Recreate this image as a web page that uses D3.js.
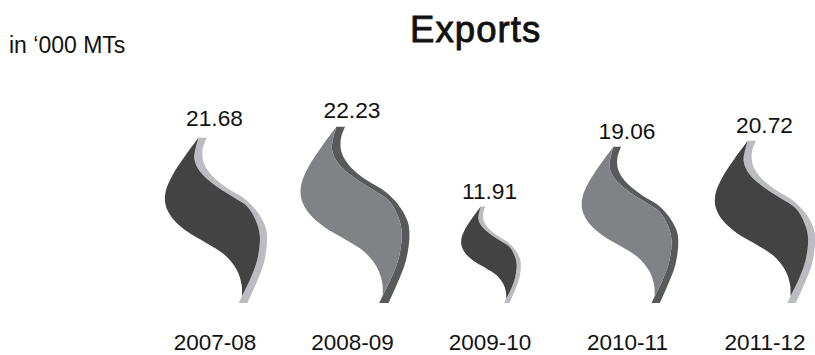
<!DOCTYPE html>
<html><head><meta charset="utf-8">
<script src="https://cdn.jsdelivr.net/npm/d3@7"></script>
<style>html,body{margin:0;padding:0;background:#fff}svg{display:block}text{font-family:"Liberation Sans",Arial,sans-serif;fill:#111}</style>
</head><body><svg id="c" width="815" height="355"></svg>
<script>
const categories = ["2007-08","2008-09","2009-10","2010-11","2011-12"];
const exportsValues = [21.68,22.23,11.91,19.06,20.72];
const tones = ["dark","mid","dark","mid","dark"];
const palette = {dark:{body:"#434344",band:"#bbbcc0"},mid:{body:"#808285",band:"#58595b"}};

// flame template, in its own unit box
const leftEdge = [[145,142],[105,195],[65,255],[44,305],[44,345],[65,385],[110,425],[170,460],[225,495],[262,540],[277,585],[278,620]];
const innerEdge = [[278,620],[305,565],[325,510],[333,440],[322,395],[295,350],[250,320],[195,285],[150,245],[132,205],[145,142]];
const outerEdge = [[145,142],[170,142],[158,175],[160,215],[185,255],[235,295],[285,325],[325,365],[350,410],[355,450],[345,520],[320,585],[295,640],[268,640],[278,620]];

const svg = d3.select("#c");
const x = d3.scalePoint().domain(categories).range([214.5,764.5]);
const markX = d3.scaleOrdinal().domain(categories).range([216,355,491,630,765]);
const sortedValues = [11.91,19.06,20.72,21.68,22.23];
const heightOf = d3.scaleLinear().domain(sortedValues).range([97,157,163,166,177]);
const labelY = d3.scaleLinear().domain(sortedValues).range([199,139,133,126,118]);
const baseY = 303;

svg.append("text").attr("x",9).attr("y",53).attr("font-size",23).text("in ‘000 MTs");
svg.append("text").attr("x",410).attr("y",42).attr("font-size",36.5).attr("letter-spacing",1.1)
  .attr("stroke","#111").attr("stroke-width",0.9).text("Exports");

const seg = (pts,sx,sy,c)=>d3.line().x(d=>sx(d[0])).y(d=>sy(d[1])).curve(c)(pts);
categories.forEach((cat,i)=>{
  const v = exportsValues[i], h = heightOf(v), w = h*0.615, cx = markX(cat);
  const sx = d3.scaleLinear().domain([42,355]).range([cx-w/2,cx+w/2]);
  const sy = d3.scaleLinear().domain([140,640]).range([baseY-h,baseY]);
  const cur = d3.curveCatmullRom.alpha(0.5);
  const g = svg.append("g");
  const topSeg = seg(outerEdge.slice(1,13),sx,sy,cur);
  const band = "M"+sx(outerEdge[0][0])+","+sy(outerEdge[0][1])+"L"+topSeg.slice(1)
     +"L"+sx(268)+","+sy(640)+"L"+sx(278)+","+sy(620)+"L"+seg(innerEdge,sx,sy,cur).slice(1)+"Z";
  g.append("path").attr("d",band).attr("fill",palette[tones[i]].band);
  const body = seg(leftEdge,sx,sy,cur)+"L"+seg(innerEdge,sx,sy,cur).slice(1)+"Z";
  g.append("path").attr("d",body).attr("fill",palette[tones[i]].body);
  svg.append("text").attr("x",x(cat)).attr("y",labelY(v)).attr("text-anchor","middle").attr("font-size",22.7).text(v.toFixed(2));
});

const axis = d3.axisBottom(x).tickSize(0).tickPadding(0);
const ax = svg.append("g").attr("transform","translate(0,334)").call(axis);
ax.select(".domain").remove();
ax.selectAll("text").attr("font-size",22.5).style("font-family",'"Liberation Sans",Arial,sans-serif').style("fill","#111");
</script></body></html>
